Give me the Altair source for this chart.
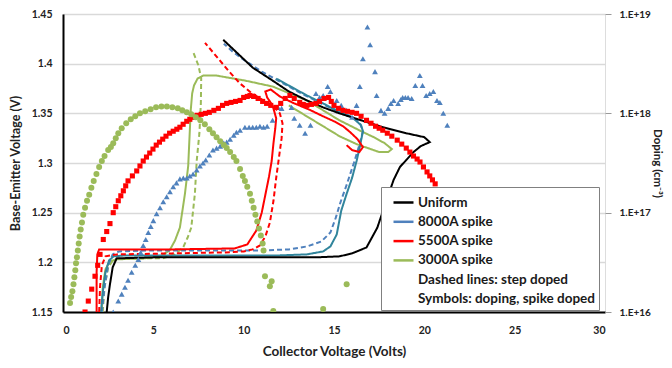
import altair as alt
import pandas as pd

# ---------------- data ----------------
UNIFORM = [(2.42, 1.15), (2.5, 1.165), (2.6, 1.178), (2.75, 1.195), (2.97, 1.204), (5, 1.205), (8, 1.205),
           (11, 1.205), (14, 1.205), (15.3, 1.206), (16.0, 1.209), (16.8, 1.215), (17.4, 1.235), (17.9, 1.262),
           (18.3, 1.283), (18.65, 1.296), (19.0, 1.303), (19.4, 1.311), (19.8, 1.317), (20.3, 1.321),
           (20.0, 1.326), (19.0, 1.330), (17.7, 1.336), (16.5, 1.343), (15.3, 1.350), (14.4, 1.356),
           (13.5, 1.363), (12.5, 1.372), (11.6, 1.383), (10.5, 1.396), (9.8, 1.408), (8.87, 1.424)]

SPIKE8000_SOLID = [(2.1, 1.15), (2.2, 1.17), (2.35, 1.19), (2.55, 1.202), (2.8, 1.206), (3.5, 1.207), (8, 1.207),
                   (12, 1.207), (13.5, 1.208), (14.4, 1.211), (14.8, 1.216), (15.15, 1.228), (15.4, 1.252),
                   (15.7, 1.269), (16.0, 1.285), (16.25, 1.302), (16.45, 1.318), (16.6, 1.332), (16.5, 1.338),
                   (16.0, 1.346), (15.2, 1.352), (14.4, 1.360), (13.5, 1.368), (12.6, 1.377), (11.8, 1.385)]

SPIKE8000_STEP = [(2.15, 1.15), (2.3, 1.175), (2.5, 1.197), (2.75, 1.208), (3.1, 1.211), (5, 1.212), (8, 1.212),
                  (11, 1.212), (12.5, 1.213), (13.5, 1.216), (14.3, 1.221), (14.8, 1.23), (15.1, 1.245),
                  (15.35, 1.26), (15.7, 1.278), (16.1, 1.30), (16.4, 1.318), (16.6, 1.332), (16.4, 1.342),
                  (15.6, 1.35), (14.5, 1.358), (13.2, 1.370), (12.0, 1.382), (11.0, 1.392), (10.0, 1.404),
                  (9.4, 1.412), (8.9, 1.420)]

SPIKE5500_SOLID = [(1.86, 1.15), (1.86, 1.19), (1.9, 1.208), (2.0, 1.213), (3, 1.213), (6, 1.213), (9.5, 1.214),
                   (10.2, 1.218), (10.7, 1.232), (11.0, 1.25), (11.2, 1.268), (11.4, 1.286), (11.55, 1.302),
                   (11.65, 1.32), (11.75, 1.335), (11.8, 1.345), (11.6, 1.358), (11.3, 1.366), (11.2, 1.372),
                   (11.5, 1.374), (12.0, 1.367), (12.8, 1.360), (13.6, 1.354), (14.4, 1.347), (15.0, 1.342),
                   (15.5, 1.337), (15.9, 1.331), (16.3, 1.324), (16.6, 1.316), (16.4, 1.311), (16.0, 1.313),
                   (15.7, 1.318)]

SPIKE5500_STEP = [(2.0, 1.15), (2.05, 1.175), (2.15, 1.197), (2.35, 1.206), (3, 1.208), (6, 1.209), (9, 1.210),
                  (10.0, 1.211), (10.5, 1.213), (10.9, 1.217), (11.2, 1.226), (11.45, 1.24), (11.65, 1.262),
                  (11.8, 1.285), (11.95, 1.305), (12.1, 1.325), (12.15, 1.34), (12.0, 1.35), (11.6, 1.358),
                  (11.0, 1.364), (10.4, 1.371), (9.8, 1.38), (9.2, 1.392), (8.6, 1.405), (7.86, 1.421)]

SPIKE3000_SOLID = [(2.15, 1.15), (2.2, 1.175), (2.35, 1.193), (2.6, 1.201), (3.0, 1.203), (4.5, 1.204),
                   (5.4, 1.206), (5.9, 1.212), (6.2, 1.222), (6.47, 1.235), (6.75, 1.269), (6.93, 1.297),
                   (7.0, 1.325), (7.07, 1.353), (7.15, 1.37), (7.25, 1.378), (7.45, 1.385), (7.76, 1.388),
                   (8.5, 1.388), (10.07, 1.383), (11.6, 1.377), (13.5, 1.363), (15.3, 1.343), (16.5, 1.332),
                   (17.2, 1.326), (17.8, 1.32), (18.2, 1.314), (18.0, 1.311), (17.5, 1.311), (16.25, 1.319),
                   (15.3, 1.327), (14.4, 1.337), (13.4, 1.348), (12.5, 1.358)]

SPIKE3000_STEP = [(2.2, 1.15), (2.3, 1.175), (2.5, 1.195), (2.8, 1.203), (3.5, 1.204), (5.5, 1.204), (6.2, 1.208),
                  (6.65, 1.215), (6.9, 1.225), (7.1, 1.235), (7.3, 1.269), (7.4, 1.302), (7.55, 1.33),
                  (7.63, 1.36), (7.65, 1.385), (7.5, 1.398), (7.2, 1.412)]

# doping profiles (symbols), plotted in the left-axis frame
DOPING_8000 = [(2.78, 1.150), (3.06, 1.161), (3.25, 1.168), (3.43, 1.175), (3.6, 1.182), (3.8, 1.190),
               (4.0, 1.197), (4.17, 1.203), (4.3, 1.210), (4.44, 1.217), (4.58, 1.223), (4.72, 1.230),
               (4.86, 1.236), (5.0, 1.242), (5.18, 1.249), (5.37, 1.255), (5.55, 1.261), (5.74, 1.266),
               (5.92, 1.271), (6.1, 1.276), (6.28, 1.280), (6.47, 1.284), (6.66, 1.285), (6.85, 1.285),
               (7.02, 1.287), (7.2, 1.289), (7.4, 1.293), (7.58, 1.297), (7.75, 1.300), (7.9, 1.303),
               (8.1, 1.308), (8.3, 1.313), (8.5, 1.315), (8.7, 1.317), (8.9, 1.320), (9.06, 1.321),
               (9.25, 1.324), (9.45, 1.328), (9.6, 1.331), (9.8, 1.333), (10.07, 1.336), (10.3, 1.336),
               (10.5, 1.336), (10.7, 1.336), (10.9, 1.337), (11.1, 1.336), (11.3, 1.337), (11.6, 1.343),
               (11.9, 1.356), (12.1, 1.355), (12.65, 1.356), (12.8, 1.345), (13.1, 1.338), (13.4, 1.330),
               (13.7, 1.338), (14.0, 1.370), (14.2, 1.366), (14.4, 1.368), (14.65, 1.377), (14.8, 1.372),
               (15.15, 1.363), (15.4, 1.358), (15.7, 1.353), (16.0, 1.346), (16.25, 1.358), (16.43, 1.377),
               (16.6, 1.405), (16.85, 1.437), (17.0, 1.419), (17.27, 1.392), (17.36, 1.368), (17.6, 1.353),
               (17.8, 1.350), (18.0, 1.355), (18.15, 1.360), (18.3, 1.363), (18.55, 1.360), (18.7, 1.364),
               (18.8, 1.366), (18.95, 1.366), (19.1, 1.366), (19.3, 1.365), (19.5, 1.378), (19.75, 1.388),
               (19.9, 1.378), (20.1, 1.368), (20.3, 1.370), (20.5, 1.372), (20.7, 1.363), (20.86, 1.361),
               (21.05, 1.350), (21.27, 1.338)]

DOPING_5500 = [(1.22, 1.150), (1.4, 1.161), (1.59, 1.173), (1.77, 1.186), (1.92, 1.197), (2.05, 1.208),
               (2.23, 1.223), (2.42, 1.231), (2.6, 1.239), (2.78, 1.250), (2.92, 1.256), (3.06, 1.262),
               (3.2, 1.267), (3.34, 1.272), (3.47, 1.277), (3.6, 1.282), (3.84, 1.287), (4.08, 1.292),
               (4.26, 1.297), (4.44, 1.302), (4.62, 1.306), (4.8, 1.310), (4.98, 1.314), (5.16, 1.318),
               (5.34, 1.321), (5.52, 1.324), (5.7, 1.327), (5.9, 1.330), (6.1, 1.332), (6.3, 1.334),
               (6.47, 1.336), (6.65, 1.339), (6.85, 1.342), (7.02, 1.344), (7.2, 1.346), (7.42, 1.348),
               (7.65, 1.349), (7.88, 1.350), (8.1, 1.351), (8.35, 1.353), (8.6, 1.355), (8.83, 1.358),
               (9.06, 1.360), (9.3, 1.361), (9.55, 1.362), (9.8, 1.363), (10.0, 1.366), (10.2, 1.367),
               (10.35, 1.368), (10.55, 1.367), (10.8, 1.365), (11.05, 1.362), (11.27, 1.360), (11.5, 1.358),
               (11.8, 1.356), (12.05, 1.360), (12.3, 1.365), (12.56, 1.368), (12.8, 1.365), (13.1, 1.361),
               (13.3, 1.359), (13.5, 1.358), (13.75, 1.359), (14.0, 1.360), (14.2, 1.362), (14.45, 1.365),
               (14.7, 1.366), (14.85, 1.362), (15.0, 1.358), (15.25, 1.355), (15.5, 1.353), (15.75, 1.352),
               (16.0, 1.351), (16.25, 1.350), (16.5, 1.347), (16.8, 1.343), (17.05, 1.340), (17.3, 1.337),
               (17.5, 1.335), (17.7, 1.333), (17.95, 1.330), (18.2, 1.327), (18.5, 1.323), (18.75, 1.319),
               (19.0, 1.315), (19.2, 1.311), (19.4, 1.307), (19.6, 1.304), (19.76, 1.301), (19.95, 1.296),
               (20.15, 1.291), (20.3, 1.287), (20.45, 1.283), (20.6, 1.279)]

DOPING_3000 = [(0.39, 1.159), (0.45, 1.165), (0.52, 1.171), (0.58, 1.178), (0.63, 1.185), (0.68, 1.192),
               (0.72, 1.199), (0.77, 1.205), (0.82, 1.212), (0.87, 1.219), (0.92, 1.226), (0.98, 1.233),
               (1.05, 1.240), (1.12, 1.248), (1.22, 1.255), (1.33, 1.262), (1.45, 1.268), (1.57, 1.275),
               (1.7, 1.282), (1.85, 1.289), (2.0, 1.296), (2.15, 1.302), (2.3, 1.307), (2.5, 1.313),
               (2.65, 1.316), (2.78, 1.320), (2.92, 1.325), (3.06, 1.330), (3.25, 1.335), (3.5, 1.340),
               (3.75, 1.344), (4.0, 1.347), (4.26, 1.350), (4.55, 1.352), (4.85, 1.354), (5.15, 1.356),
               (5.45, 1.357), (5.75, 1.357), (6.05, 1.356), (6.35, 1.355), (6.6, 1.353), (6.85, 1.351),
               (7.1, 1.349), (7.35, 1.346), (7.6, 1.343), (7.85, 1.339), (8.1, 1.334), (8.3, 1.330),
               (8.5, 1.326), (8.7, 1.322), (8.9, 1.318), (9.06, 1.315), (9.25, 1.311), (9.45, 1.306),
               (9.6, 1.302), (9.8, 1.294), (9.95, 1.287), (10.07, 1.282), (10.2, 1.276), (10.35, 1.269),
               (10.45, 1.262), (10.55, 1.255), (10.65, 1.248), (10.75, 1.241), (10.85, 1.234), (10.95, 1.227),
               (11.05, 1.219), (11.1, 1.212), (11.18, 1.186), (11.45, 1.176), (11.55, 1.181), (11.64, 1.151),
               (14.4, 1.153), (15.7, 1.178)]

LEGEND_LABELS = ["Uniform", "8000A spike", "5500A spike", "3000A spike",
                 "Dashed lines: step doped", "Symbols: doping, spike doped"]
X_TICKS = [0, 5, 10, 15, 20, 25, 30]
Y_TICKS = [1.15, 1.2, 1.25, 1.3, 1.35, 1.4, 1.45]
DOPING_TICKS = [1e16, 1e17, 1e18, 1e19]

BLACK, BLUE, RED, GREEN, TEAL = "#000000", "#4F81BD", "#FF0000", "#9BBB59", "#31859C"
WHITE = "#ffffff"
FONT = "Lato"

# ---------------- build tables ----------------
line_defs = [
    ("1", "3000A spike", "solid", SPIKE3000_SOLID),
    ("2", "3000A spike", "dashed", SPIKE3000_STEP),
    ("3", "8000A spike", "dashed", SPIKE8000_STEP),
    ("4", "8000A solid", "solid", SPIKE8000_SOLID),
    ("5", "5500A spike", "dashed", SPIKE5500_STEP),
    ("6", "5500A spike", "solid", SPIKE5500_SOLID),
    ("7", "Uniform", "solid", UNIFORM),
]
rows = []
for lid, key, style, pts in line_defs:
    for i, (x, y) in enumerate(pts):
        rows.append({"lid": lid, "key": key, "style": style, "i": i, "vc": x, "vbe": y})
lines_df = pd.DataFrame(rows)


def pts_df(pts):
    return pd.DataFrame({"vc": [p[0] for p in pts], "vbe": [p[1] for p in pts]})


xs = alt.Scale(domain=[0, 30], nice=False)
ys = alt.Scale(domain=[1.15, 1.45], nice=False, zero=False)

x_enc = alt.X("vc:Q", scale=xs, axis=alt.Axis(
    values=X_TICKS, title="Collector Voltage (Volts)", grid=False, ticks=False,
    domainColor="#000", domainWidth=2, labelPadding=13, titlePadding=9,
    labelFont=FONT, labelFontWeight="bold", labelFontSize=10.5, labelColor="#222",
    titleFont=FONT, titleFontWeight="bold", titleFontSize=13.5, titleColor="#222"))
y_enc = alt.Y("vbe:Q", scale=ys, axis=alt.Axis(
    values=Y_TICKS, format=".2~f", title="Base-Emitter Voltage (V)", ticks=False,
    grid=True, gridColor="#d9d9d9", gridWidth=1.5,
    domainColor="#000", domainWidth=2, labelPadding=11, titlePadding=9,
    labelFont=FONT, labelFontWeight="bold", labelFontSize=10.5, labelColor="#222",
    titleFont=FONT, titleFontWeight="bold", titleFontSize=12.5, titleColor="#222"))

color_domain = LEGEND_LABELS + ["8000A solid"]
color_range = [BLACK, BLUE, RED, GREEN, WHITE, WHITE, TEAL]

lines = alt.Chart(lines_df).mark_line(strokeWidth=2, clip=True).encode(
    x=x_enc, y=y_enc,
    color=alt.Color("key:N", scale=alt.Scale(domain=color_domain, range=color_range),
                    legend=alt.Legend(values=LEGEND_LABELS, title=None, orient="none",
                                      legendX=318, legendY=173, symbolType="stroke",
                                      symbolSize=400, symbolStrokeWidth=2.5, symbolOffset=7,
                                      labelOffset=3, rowPadding=1.3, padding=4,
                                      labelFont=FONT, labelFontWeight="bold", labelFontSize=13.5,
                                      labelColor="#1a1a1a", labelLimit=400,
                                      strokeColor="#808080", fillColor="white")),
    strokeDash=alt.StrokeDash("style:N", scale=alt.Scale(domain=["solid", "dashed"],
                                                         range=[[1, 0], [5, 3]]), legend=None),
    detail="lid:N",
    order="i:Q",
)

tri = alt.Chart(pts_df(DOPING_8000)).mark_point(shape="triangle-up", filled=True, size=34,
                                                 color=BLUE, opacity=1, clip=True).encode(x="vc:Q", y="vbe:Q")
sq = alt.Chart(pts_df(DOPING_5500)).mark_point(shape="square", filled=True, size=26,
                                                color=RED, opacity=1, clip=True).encode(x="vc:Q", y="vbe:Q")
circ = alt.Chart(pts_df(DOPING_3000)).mark_point(shape="circle", filled=True, size=36,
                                                  color=GREEN, opacity=1, clip=True).encode(x="vc:Q", y="vbe:Q")

main = alt.layer(lines, tri, sq, circ)

right = alt.Chart(pd.DataFrame({"doping": DOPING_TICKS})).mark_point(opacity=0).encode(
    y=alt.Y("doping:Q", scale=alt.Scale(type="log", domain=[1e16, 1e19], nice=False),
            axis=alt.Axis(orient="right", values=DOPING_TICKS,
                          labelExpr="'1.E+' + round(log(datum.value) / LN10)",
                          title="Doping (cm⁻³)", grid=False, domain=False,
                          ticks=True, tickSize=6, tickColor="#999", labelPadding=8, titlePadding=1,
                          labelFont=FONT, labelFontWeight="bold", labelFontSize=10, labelColor="#222",
                          titleFont=FONT, titleFontWeight="bold", titleFontSize=11.5, titleColor="#222"))
)

chart = alt.layer(main, right).resolve_scale(y="independent").properties(
    width=542, height=298,
    padding={"left": 55, "top": 6, "right": 59, "bottom": 48},
    autosize=alt.AutoSizeParams(type="none"),
).configure_view(stroke="#404040", strokeWidth=2).configure(background="white")

chart.save("out.html", embed_options={"renderer": "svg", "actions": False})
